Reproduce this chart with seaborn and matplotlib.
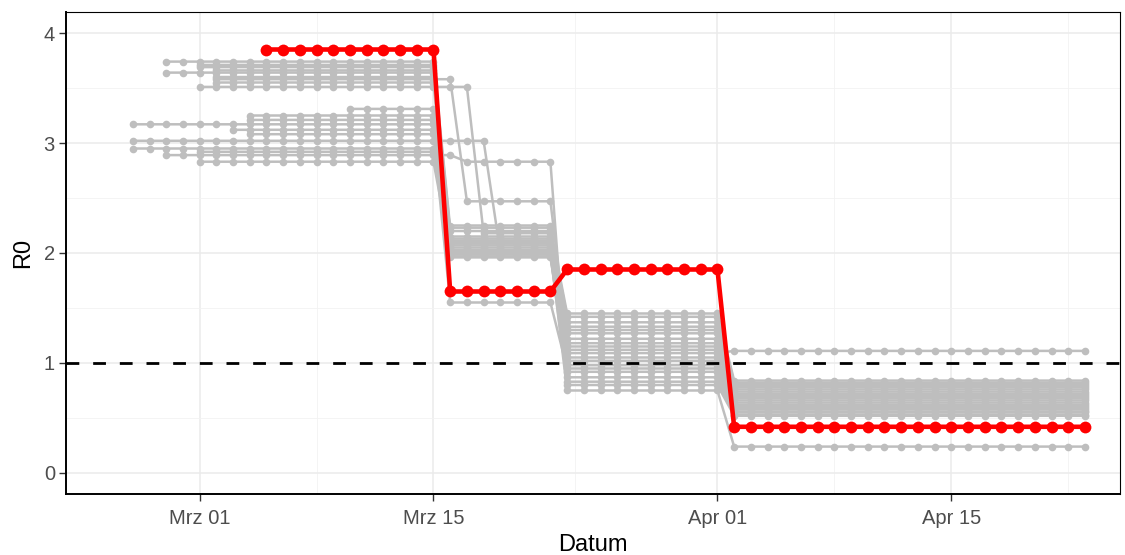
import numpy as np
import pandas as pd
import matplotlib
matplotlib.use("Agg")
import matplotlib.pyplot as plt
import matplotlib.dates as mdates
import seaborn as sns

# Daten: graue Laeufe (Start, erster Wechsel, R0 je Phase)
start_dates = ["2020-02-28", "2020-03-01", "2020-03-01", "2020-03-02", "2020-02-28",
               "2020-03-02", "2020-03-02", "2020-03-02", "2020-03-01", "2020-03-10",
               "2020-03-04", "2020-03-04", "2020-02-26", "2020-03-03", "2020-03-04",
               "2020-02-26", "2020-02-26", "2020-03-01", "2020-02-28", "2020-03-01"]
change1 = ["2020-03-16", "2020-03-16", "2020-03-16", "2020-03-16", "2020-03-16",
           "2020-03-16", "2020-03-17", "2020-03-16", "2020-03-18", "2020-03-16",
           "2020-03-16", "2020-03-16", "2020-03-16", "2020-03-16", "2020-03-16",
           "2020-03-19", "2020-03-16", "2020-03-16", "2020-03-17", "2020-03-16"]
change2 = "2020-03-23"
change3 = "2020-04-02"
end_date = "2020-04-23"
r0_phase1 = [3.74, 3.71, 3.69, 3.66, 3.64, 3.60, 3.58, 3.55, 3.51, 3.31,
             3.25, 3.21, 3.17, 3.12, 3.08, 3.02, 2.95, 2.92, 2.89, 2.83]
r0_phase2 = [2.23, 2.20, 2.15, 2.11, 2.07, 2.03, 2.47, 2.00, 2.18, 1.97,
             2.13, 2.09, 1.96, 2.05, 1.55, 2.01, 2.25, 1.99, 2.83, 2.02]
r0_phase3 = [1.45, 1.42, 1.37, 1.33, 1.30, 1.27, 1.22, 1.18, 1.15, 1.12,
             1.09, 1.05, 1.02, 0.98, 0.95, 0.92, 0.87, 0.83, 0.80, 0.75]
r0_phase4 = [0.84, 0.82, 0.80, 0.78, 0.76, 0.74, 0.72, 0.70, 0.68, 0.66,
             1.11, 0.64, 0.62, 0.60, 0.58, 0.56, 0.55, 0.53, 0.52, 0.24]

# rote Linie
red_start = "2020-03-05"
red_changes = ["2020-03-16", "2020-03-23", "2020-04-02"]
red_r0 = [3.85, 1.65, 1.85, 0.42]

# Achsen
tick_dates = ["2020-03-01", "2020-03-15", "2020-04-01", "2020-04-15"]
tick_labels = ["Mrz 01", "Mrz 15", "Apr 01", "Apr 15"]
minor_dates = ["2020-02-22 00:00", "2020-03-08 00:00", "2020-03-23 12:00",
               "2020-04-08 00:00", "2020-04-22 00:00"]


def step_series(start, changes, values):
    days = pd.date_range(start, end_date, freq="D")
    idx = np.searchsorted(pd.to_datetime(changes).values, days.values, side="right")
    return pd.DataFrame({"Datum": days, "R0": np.array(values)[idx]})


frames = []
for i in range(len(start_dates)):
    d = step_series(start_dates[i], [change1[i], change2, change3],
                    [r0_phase1[i], r0_phase2[i], r0_phase3[i], r0_phase4[i]])
    d["Lauf"] = i
    frames.append(d)
gray_df = pd.concat(frames, ignore_index=True)
red_df = step_series(red_start, red_changes, red_r0)

sns.set_style("whitegrid")
plt.rcParams["font.family"] = ["Liberation Sans", "DejaVu Sans"]

fig = plt.figure(figsize=(11.25, 5.55), dpi=100)
ax = fig.add_axes([66 / 1125, 1 - 494 / 555, (1120 - 66) / 1125, (494 - 12) / 555])

sns.lineplot(data=gray_df, x="Datum", y="R0", units="Lauf", estimator=None,
             color="#BEBEBE", linewidth=1.8, marker="o", markersize=5.5,
             markeredgewidth=0, ax=ax, zorder=2)
sns.lineplot(data=red_df, x="Datum", y="R0", color="red", linewidth=3.3,
             marker="o", markersize=8.5, markeredgewidth=0, ax=ax, zorder=3)
ax.axhline(1, color="black", linestyle=(0, (4.6, 5.0)), linewidth=2, zorder=4)

# Achsenbereich
mar1 = mdates.date2num(pd.Timestamp("2020-03-01"))
ax.set_xlim(mar1 - 7.96, mar1 + 55.1)
ax.set_ylim(-0.191, 4.191)

ax.set_xticks(pd.to_datetime(tick_dates))
ax.set_xticklabels(tick_labels)
ax.set_xticks(pd.to_datetime(minor_dates, format="%Y-%m-%d %H:%M"), minor=True)
ax.set_yticks([0, 1, 2, 3, 4])
ax.set_yticks([0.5, 1.5, 2.5, 3.5], minor=True)

ax.grid(which="major", color="#EBEBEB", linewidth=1.1)
ax.grid(which="minor", color="#F2F2F2", linewidth=0.6)
ax.tick_params(which="major", length=5, width=1, color="#333333",
               labelsize=14.5, labelcolor="#4D4D4D")
ax.tick_params(axis="x", which="major", bottom=True, pad=6)
ax.tick_params(axis="y", which="major", left=True, pad=3)
ax.tick_params(which="minor", length=0)

for side in ["top", "right"]:
    ax.spines[side].set_color("black")
    ax.spines[side].set_linewidth(0.8)
for side in ["left", "bottom"]:
    ax.spines[side].set_color("black")
    ax.spines[side].set_linewidth(1.4)

ax.set_xlabel("Datum", fontsize=17, color="black", labelpad=4)
ax.set_ylabel("R0", fontsize=17, color="black", labelpad=7)

fig.savefig("out.png", dpi=100)
